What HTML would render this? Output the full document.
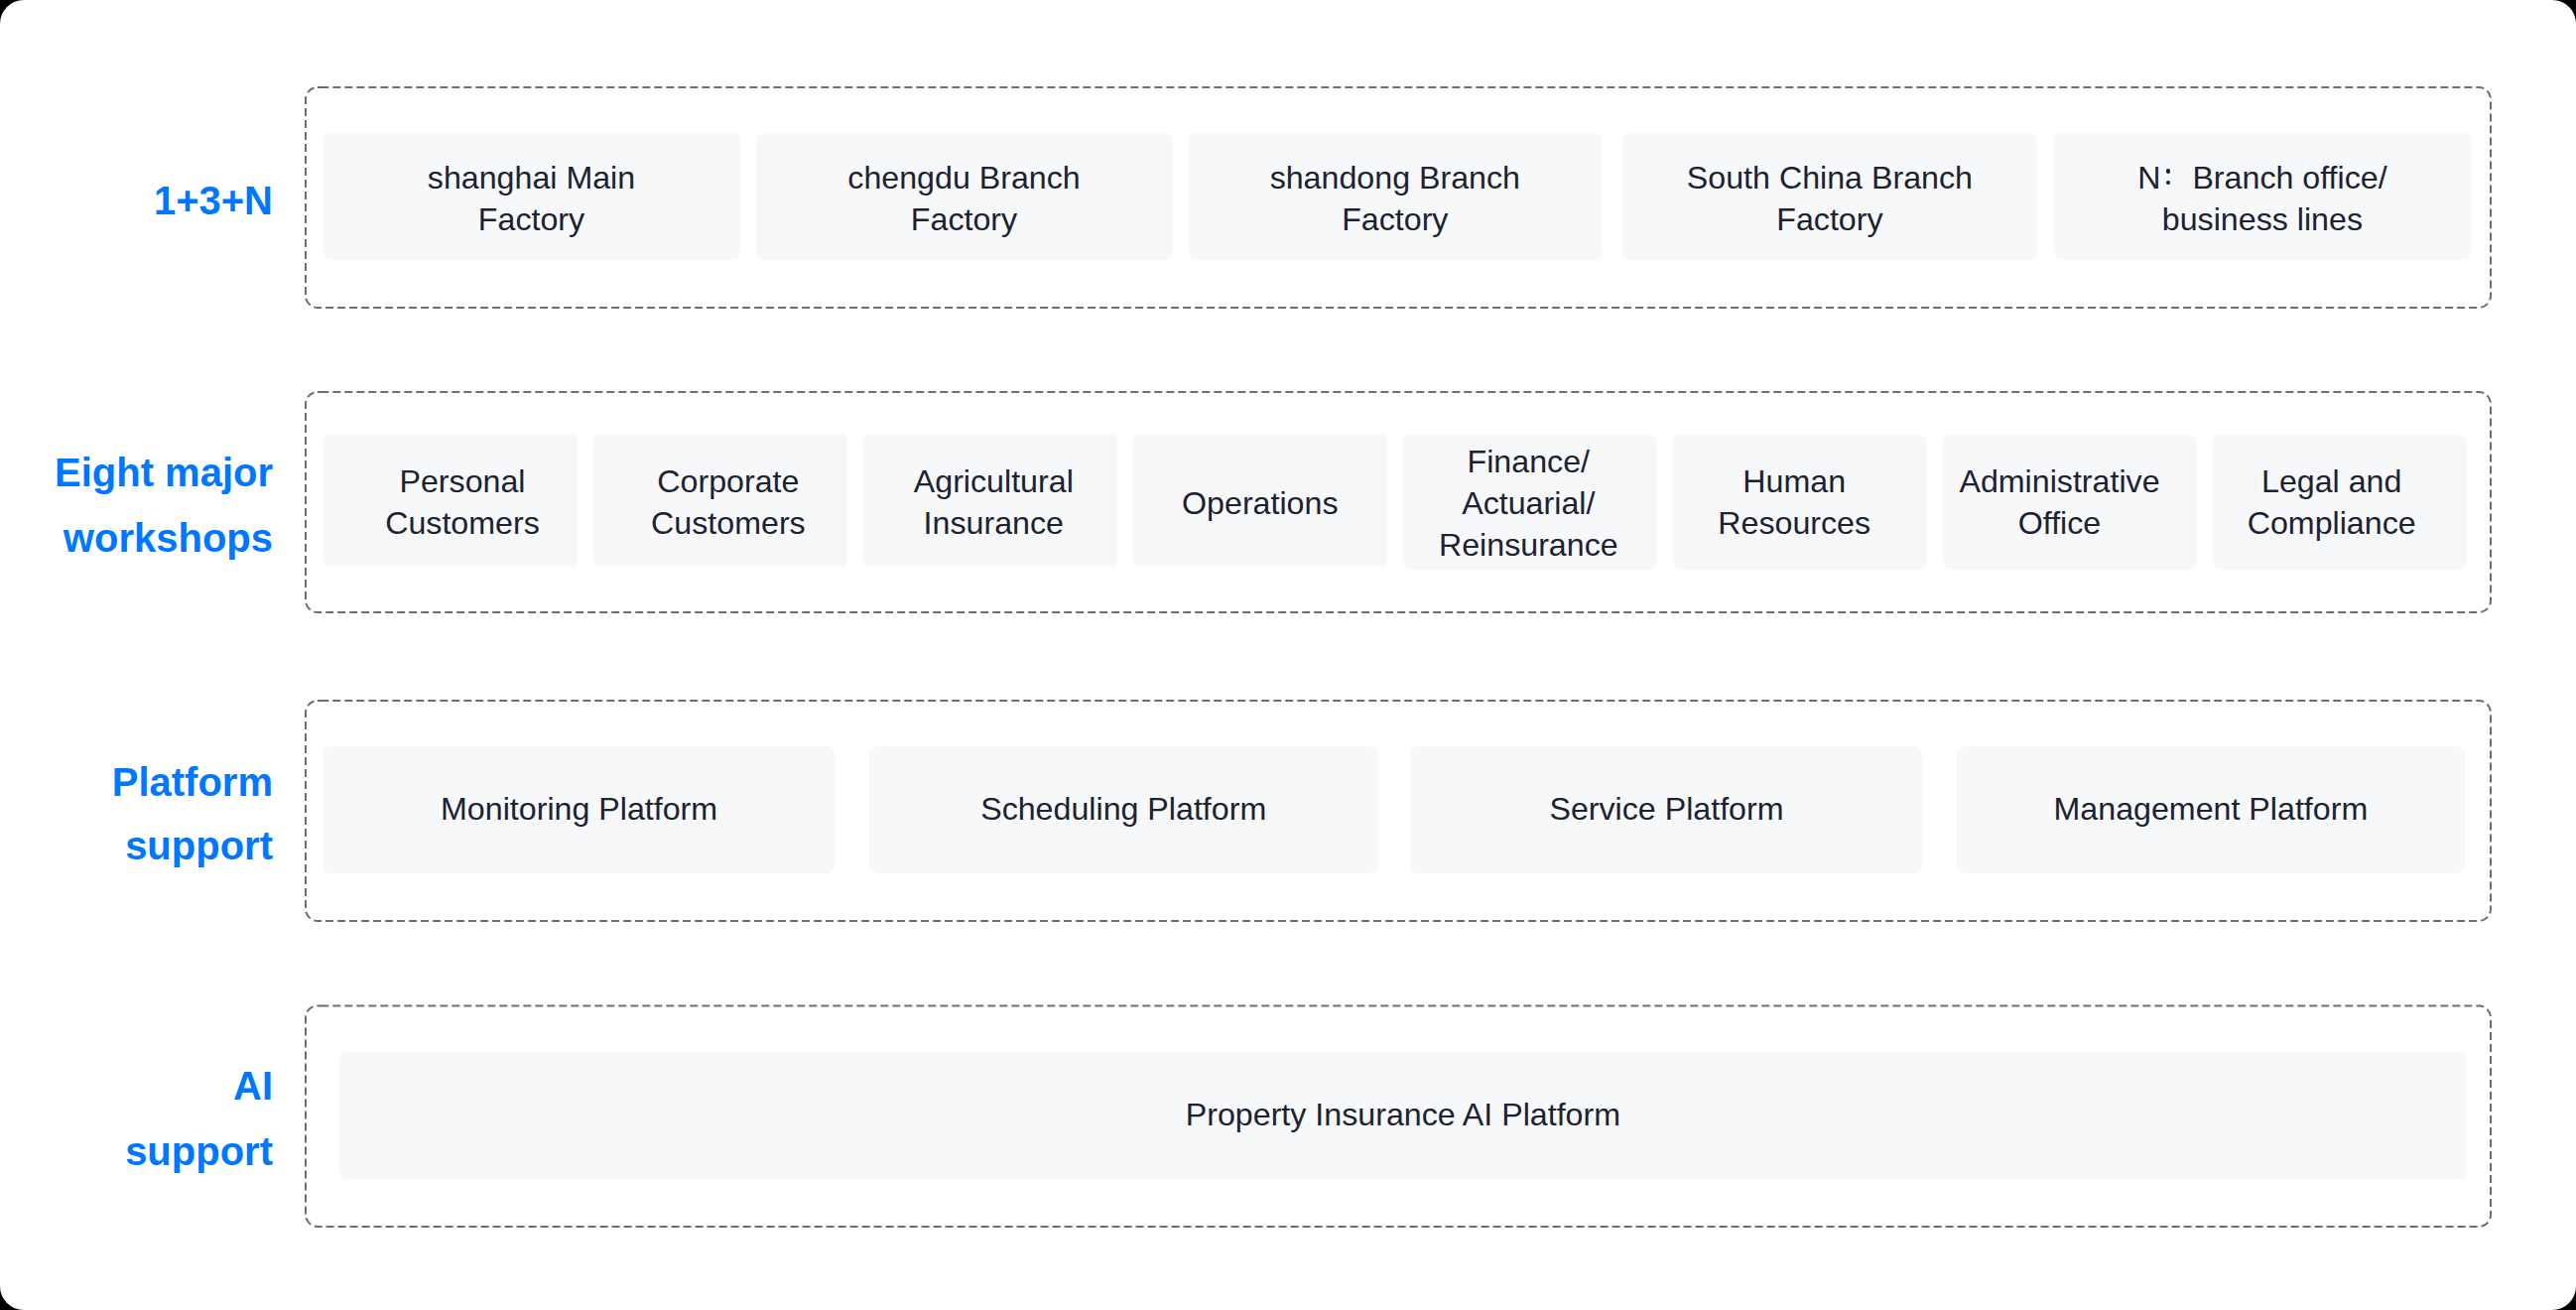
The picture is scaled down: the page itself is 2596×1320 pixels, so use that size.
<!DOCTYPE html>
<html><head><meta charset="utf-8"><title>1+3+N Architecture</title>
<style>
html,body{margin:0;padding:0;background:#000;}
body{width:2596px;height:1320px;overflow:hidden;position:relative;font-family:"Liberation Sans",sans-serif;}
#pg{position:absolute;left:0;top:0;width:2596px;height:1320px;background:#fff;border-radius:24px;overflow:hidden;}
.c{position:absolute;background:#f7f8fa;border-radius:8px;}
.t{position:absolute;width:640px;text-align:center;font-size:32.2px;line-height:42px;height:42px;color:#1c2230;white-space:nowrap;}
.l{position:absolute;left:0;width:275px;text-align:right;font-size:40px;font-weight:bold;line-height:66px;height:66px;color:#0077ff;white-space:nowrap;}
.fc{display:inline-block;position:relative;width:32px;height:10px;}
.fc i{position:absolute;left:5.5px;width:4.4px;height:4.4px;border-radius:50%;background:#1c2230;}
.fc i:first-child{top:-9.7px}
.fc i:last-child{top:2.2px}
svg{position:absolute;left:0;top:0;}
</style></head><body><div id="pg">
<svg width="2596" height="1320" viewBox="0 0 2596 1320">
<rect x="308" y="88" width="2202" height="222" rx="12" ry="12" fill="none" stroke="#65707f" stroke-width="2" stroke-dasharray="8 4" stroke-dashoffset="8.7"/>
<path d="M320 88 H324" stroke="#65707f" stroke-width="2" fill="none"/>
<rect x="308" y="395" width="2202" height="222" rx="12" ry="12" fill="none" stroke="#65707f" stroke-width="2" stroke-dasharray="8 4" stroke-dashoffset="8.7"/>
<path d="M320 395 H324" stroke="#65707f" stroke-width="2" fill="none"/>
<rect x="308" y="706" width="2202" height="222" rx="12" ry="12" fill="none" stroke="#65707f" stroke-width="2" stroke-dasharray="8 4" stroke-dashoffset="8.7"/>
<path d="M320 706 H324" stroke="#65707f" stroke-width="2" fill="none"/>
<rect x="308" y="1013.5" width="2202" height="222.5" rx="12" ry="12" fill="none" stroke="#65707f" stroke-width="2" stroke-dasharray="8 4" stroke-dashoffset="8.7"/>
<path d="M320 1013.5 H324" stroke="#65707f" stroke-width="2" fill="none"/>
</svg>
<div class="c" style="left:326px;top:134px;width:420px;height:128px"></div>
<div class="c" style="left:762px;top:134px;width:420px;height:128px"></div>
<div class="c" style="left:1198px;top:134px;width:417px;height:128px"></div>
<div class="c" style="left:1635px;top:134px;width:418px;height:128px"></div>
<div class="c" style="left:2070px;top:134px;width:420px;height:128px"></div>
<div class="c" style="left:326px;top:437px;width:256px;height:134px"></div>
<div class="c" style="left:598px;top:437px;width:256px;height:134px"></div>
<div class="c" style="left:870px;top:437px;width:256px;height:134px"></div>
<div class="c" style="left:1142px;top:437px;width:256px;height:134px"></div>
<div class="c" style="left:1414px;top:438px;width:256px;height:136px"></div>
<div class="c" style="left:1686px;top:438px;width:256px;height:136px"></div>
<div class="c" style="left:1958px;top:438px;width:256px;height:136px"></div>
<div class="c" style="left:2230px;top:438px;width:256px;height:136px"></div>
<div class="c" style="left:326px;top:752px;width:515px;height:128px"></div>
<div class="c" style="left:876px;top:752px;width:513px;height:128px"></div>
<div class="c" style="left:1422px;top:752px;width:515px;height:128px"></div>
<div class="c" style="left:1972px;top:752px;width:512px;height:128px"></div>
<div class="c" style="left:342px;top:1060px;width:2143px;height:128px"></div>
<div class="t" style="left:215.5px;top:157.9px">shanghai Main</div>
<div class="t" style="left:215.5px;top:199.9px">Factory</div>
<div class="t" style="left:651.5px;top:157.9px">chengdu Branch</div>
<div class="t" style="left:651.5px;top:199.9px">Factory</div>
<div class="t" style="left:1085.8px;top:157.9px">shandong Branch</div>
<div class="t" style="left:1085.8px;top:199.9px">Factory</div>
<div class="t" style="left:1523.9px;top:157.9px">South China Branch</div>
<div class="t" style="left:1523.9px;top:199.9px">Factory</div>
<div class="t" style="left:1959.9px;top:157.9px">N<span class="fc"><i></i><i></i></span>Branch office/</div>
<div class="t" style="left:1959.9px;top:199.9px">business lines</div>
<div class="t" style="left:146px;top:463.8px">Personal</div>
<div class="t" style="left:146px;top:505.8px">Customers</div>
<div class="t" style="left:413.9px;top:463.8px">Corporate</div>
<div class="t" style="left:413.9px;top:505.8px">Customers</div>
<div class="t" style="left:681.3px;top:463.8px">Agricultural</div>
<div class="t" style="left:681.3px;top:505.8px">Insurance</div>
<div class="t" style="left:949.8px;top:486px">Operations</div>
<div class="t" style="left:1220.3px;top:444.2px">Finance/</div>
<div class="t" style="left:1220.3px;top:486.2px">Actuarial/</div>
<div class="t" style="left:1220.3px;top:528.2px">Reinsurance</div>
<div class="t" style="left:1488.2px;top:463.8px">Human</div>
<div class="t" style="left:1488.2px;top:505.8px">Resources</div>
<div class="t" style="left:1755.5px;top:463.8px">Administrative</div>
<div class="t" style="left:1755.5px;top:505.8px">Office</div>
<div class="t" style="left:2029.7px;top:463.8px">Legal and</div>
<div class="t" style="left:2029.7px;top:505.8px">Compliance</div>
<div class="t" style="left:263.6px;top:793.8px">Monitoring Platform</div>
<div class="t" style="left:812.2px;top:793.8px">Scheduling Platform</div>
<div class="t" style="left:1359.5px;top:793.8px">Service Platform</div>
<div class="t" style="left:1907.9px;top:793.8px">Management Platform</div>
<div class="t" style="left:1093.9px;top:1101.8px">Property Insurance AI Platform</div>
<div class="l" style="top:168.7px">1+3+N</div>
<div class="l" style="top:442.7px">Eight major</div>
<div class="l" style="top:508.7px">workshops</div>
<div class="l" style="top:754.9px">Platform</div>
<div class="l" style="top:819px">support</div>
<div class="l" style="top:1060.8px">AI</div>
<div class="l" style="top:1126.9px">support</div>
</div></body></html>
